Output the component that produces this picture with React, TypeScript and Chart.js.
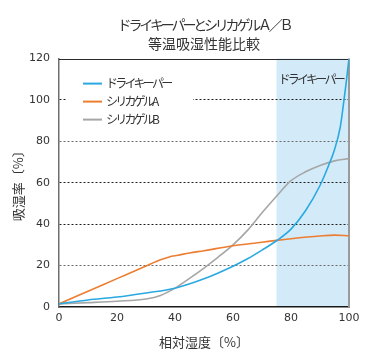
import React, { useEffect, useRef } from 'react';
import { Chart, registerables } from 'chart.js';

Chart.register(...registerables);

// ---- text ----
const titleLine1 = 'ドライキーパーとシリカゲルＡ／Ｂ';
const titleLine2 = '等温吸湿性能比較';
const xAxisTitle = '相対湿度〔%〕';
const yAxisTitle = '吸湿率〔%〕';
const seriesNames = ['ドライキーパー', 'シリカゲルA', 'シリカゲルB'];
const shadeLabel = 'ドライキーパー';

// ---- axes ----
const xRange = [0, 100];
const xStep = 20;
const yRange = [0, 120];
const yStep = 20;
const shadeRange = [75, 100];

// ---- data (relative humidity %, moisture absorption %) ----
const dryKeeperRh = [0, 10, 20, 30, 40, 50, 60, 65, 70, 75, 80, 85, 90, 93, 95, 97, 98, 99, 100];
const dryKeeperValues = [1.5, 3.4, 4.8, 6.8, 9.1, 13.6, 19.7, 23.3, 27.5, 32, 37.6, 46.5, 58.7, 68.5, 76, 87, 97, 108, 120];

const silicaARh = [0, 10, 20, 30, 35, 38, 41, 45, 50, 60, 70, 75, 80, 90, 95, 100];
const silicaAValues = [1.5, 7.6, 13.7, 19.8, 22.8, 24.2, 25.0, 26.1, 27.2, 29.6, 31.3, 32.2, 33, 34.3, 34.7, 34.4];

const silicaBRh = [0, 10, 20, 30, 35, 40, 45, 50, 55, 60, 65, 70, 75, 80, 85, 90, 95, 100];
const silicaBValues = [1.5, 2.1, 2.8, 3.9, 5.6, 9.1, 13.8, 18.8, 24.2, 30, 37, 45.5, 53.5, 61, 65.3, 68.4, 70.6, 71.7];

const seriesColors = ['#29a9e1', '#ed7d31', '#a6a6a6'];
const shadeColor = '#d3eaf8';
const textColor = '#333333';
const CJK = "'Noto Sans CJK JP', sans-serif";

const toPoints = (xs: number[], ys: number[]) => xs.map((x, i) => ({ x, y: ys[i] }));

const shadePlugin = {
  id: 'shade',
  beforeDraw(chart: any) {
    const { ctx, chartArea, scales } = chart;
    const x1 = scales.x.getPixelForValue(shadeRange[0]);
    const x2 = scales.x.getPixelForValue(shadeRange[1]);
    ctx.save();
    ctx.fillStyle = shadeColor;
    ctx.fillRect(x1, chartArea.top, x2 - x1, chartArea.bottom - chartArea.top);
    ctx.fillStyle = textColor;
    ctx.font = `12px ${CJK}`;
    ctx.textBaseline = 'middle';
    ctx.textAlign = 'left';
    (ctx as any).letterSpacing = '-2.8px';
    ctx.fillText(shadeLabel, x1 + 2, chartArea.top + 21);
    ctx.restore();
  },
};

const framePlugin = {
  id: 'frameAndLegend',
  beforeDatasetsDraw(chart: any) {
    const { ctx, chartArea } = chart;
    ctx.save();
    // top line
    ctx.strokeStyle = '#2b2b2b';
    ctx.lineWidth = 1;
    ctx.beginPath();
    ctx.moveTo(chartArea.left, Math.round(chartArea.top) + 0.5);
    ctx.lineTo(chartArea.right, Math.round(chartArea.top) + 0.5);
    ctx.stroke();
    // right line
    ctx.strokeStyle = '#9a9a9a';
    ctx.lineWidth = 2;
    ctx.beginPath();
    ctx.moveTo(chartArea.right, chartArea.top);
    ctx.lineTo(chartArea.right, chartArea.bottom);
    ctx.stroke();

    // legend
    const lx = chartArea.left + 8;
    const ly = chartArea.top + 12;
    ctx.fillStyle = '#ffffff';
    ctx.fillRect(lx, ly, 126, 60);
    ctx.font = `12px ${CJK}`;
    ctx.textBaseline = 'middle';
    ctx.textAlign = 'left';
    (ctx as any).letterSpacing = '-2.8px';
    chart.data.datasets.forEach((ds: any, i: number) => {
      const y = ly + 13 + i * 18;
      ctx.strokeStyle = ds.borderColor;
      ctx.lineWidth = 2;
      ctx.beginPath();
      ctx.moveTo(lx + 16, y);
      ctx.lineTo(lx + 35, y);
      ctx.stroke();
      ctx.fillStyle = textColor;
      ctx.fillText(ds.label, lx + 39, y);
    });
    ctx.restore();
  },
};

export default function App() {
  const ref = useRef<HTMLCanvasElement | null>(null);
  useEffect(() => {
    if (!ref.current) return;
    const chart = new Chart(ref.current, {
      type: 'line',
      data: {
        datasets: [
          { label: seriesNames[0], data: toPoints(dryKeeperRh, dryKeeperValues), borderColor: seriesColors[0] },
          { label: seriesNames[1], data: toPoints(silicaARh, silicaAValues), borderColor: seriesColors[1] },
          { label: seriesNames[2], data: toPoints(silicaBRh, silicaBValues), borderColor: seriesColors[2] },
        ].map((d) => ({
          ...d,
          borderWidth: 1.6,
          pointRadius: 0,
          fill: false,
          cubicInterpolationMode: 'monotone' as const,
        })),
      },
      options: {
        animation: false,
        responsive: true,
        maintainAspectRatio: false,
        layout: { padding: { left: 0, right: 23, top: 0, bottom: 0 } },
        plugins: {
          legend: { display: false },
          tooltip: { enabled: false },
          title: {
            display: true,
            fullSize: false,
            text: titleLine1,
            color: textColor,
            font: { family: CJK, size: 14, weight: 'normal', lineHeight: 1.2 },
            padding: { top: 16, bottom: 2 },
          },
          subtitle: {
            display: true,
            fullSize: false,
            text: titleLine2,
            color: textColor,
            font: { family: CJK, size: 14, weight: 'normal', lineHeight: 1.2 },
            padding: { top: 0, bottom: 7 },
          },
        },
        scales: {
          x: {
            type: 'linear',
            min: xRange[0],
            max: xRange[1],
            afterFit: (s: any) => { s.height = 48; },
            ticks: { stepSize: xStep, color: textColor, padding: 5, font: { family: "'DejaVu Sans', sans-serif", size: 11 } },
            grid: { display: false, drawTicks: false },
            border: { display: true, color: '#1a1a1a', width: 1.5 },
            title: { display: true, text: xAxisTitle, color: textColor, font: { family: CJK, size: 13 }, padding: { top: 0, bottom: 5 } },
          },
          y: {
            type: 'linear',
            min: yRange[0],
            max: yRange[1],
            afterFit: (s: any) => { s.width = 59; },
            ticks: { stepSize: yStep, color: textColor, padding: 9, font: { family: "'DejaVu Sans', sans-serif", size: 11 } },
            grid: {
              drawTicks: false,
              color: (c: any) => {
                const v = c.tick ? c.tick.value : 0;
                if (v === yRange[0] || v === yRange[1]) return 'rgba(0,0,0,0)';
                return v === 20 || v === 80 ? '#6a6a6a' : '#1e1e1e';
              },
              lineWidth: 1,
            },
            border: { display: true, color: '#6e6e6e', width: 1.5, dash: [2, 2] },
            title: { display: true, text: yAxisTitle, color: textColor, font: { family: CJK, size: 13 }, padding: { top: 10, bottom: 0 } },
          },
        },
      },
      plugins: [shadePlugin, framePlugin],
    } as any);

    const tb = (chart as any).titleBlock;
    if (tb) {
      const orig = tb.draw.bind(tb);
      tb.draw = (...args: any[]) => {
        const c = chart.ctx as any;
        c.save();
        c.letterSpacing = '-3.2px';
        orig(...args);
        c.restore();
      };
      chart.draw();
    }
    return () => chart.destroy();
  }, []);

  return (
    <div style={{ position: 'fixed', left: 0, top: 0, width: 372, height: 355, background: '#fff' }}>
      <canvas ref={ref} />
    </div>
  );
}
